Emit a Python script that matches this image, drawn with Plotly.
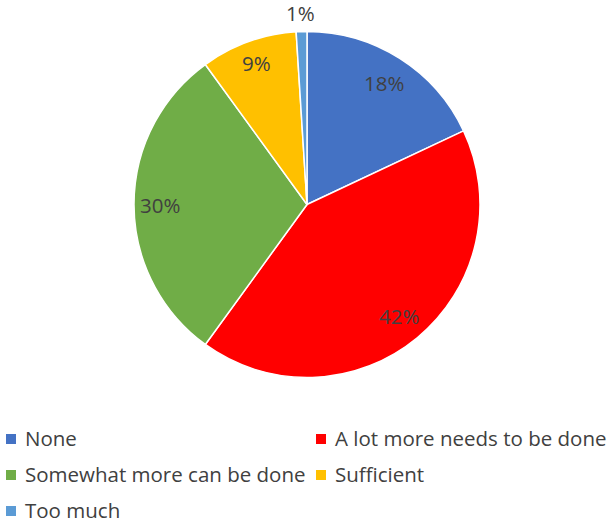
import math
import plotly.graph_objects as go

# Survey responses (share of respondents, %)
categories = ["None", "A lot more needs to be done", "Somewhat more can be done",
              "Sufficient", "Too much"]
values = [18, 42, 30, 9, 1]
colors = ["#4472C4", "#FF0000", "#70AD47", "#FFC000", "#5B9BD5"]
# radial placement of each percentage label, as a fraction of the radius
label_radius = [0.835, 0.835, 0.85, 0.87, 1.105]

W, H = 610, 525
CX, CY, R = 307, 204.5, 173  # pie centre and radius in pixels
FONT = "Open Sans"
FONT_SIZE = 20.5
TEXT_COLOR = "#404040"

fig = go.Figure(go.Pie(
    labels=categories,
    values=values,
    marker=dict(colors=colors, line=dict(color="white", width=1.5)),
    sort=False,
    direction="clockwise",
    rotation=0,
    textinfo="none",
    hoverinfo="label+percent",
    showlegend=False,
    domain=dict(x=[(CX - R) / W, (CX + R) / W],
                y=[(H - CY - R) / H, (H - CY + R) / H]),
))

# Percentage labels at each slice's mid angle
total = sum(values)
cum = 0
annotations = []
for v, k in zip(values, label_radius):
    mid = (cum + v / 2) / total * 2 * math.pi
    cum += v
    px = CX + k * R * math.sin(mid)
    py = CY - k * R * math.cos(mid)
    annotations.append(dict(
        x=px / W, y=1 - py / H, xref="paper", yref="paper",
        text=f"{round(v / total * 100)}%", showarrow=False,
        font=dict(family=FONT, size=FONT_SIZE, color=TEXT_COLOR),
        xanchor="center", yanchor="middle",
    ))

# Legend: two columns, rows 36 px apart
shapes = []
col_x = [6, 316]
row_y0 = 439
row_gap = 36
sq = 10
for i, (name, c) in enumerate(zip(categories, colors)):
    cx0 = col_x[i % 2]
    cy0 = row_y0 + (i // 2) * row_gap
    shapes.append(dict(
        type="rect", xref="paper", yref="paper",
        x0=cx0 / W, x1=(cx0 + sq) / W,
        y0=1 - (cy0 + sq / 2) / H, y1=1 - (cy0 - sq / 2) / H,
        fillcolor=c, line=dict(width=0),
    ))
    annotations.append(dict(
        x=(cx0 + sq + 7) / W, y=1 - (cy0 - 1) / H, xref="paper", yref="paper",
        text=name, showarrow=False,
        font=dict(family=FONT, size=FONT_SIZE, color=TEXT_COLOR),
        xanchor="left", yanchor="middle",
    ))

fig.update_layout(
    width=W, height=H,
    margin=dict(l=0, r=0, t=0, b=0),
    paper_bgcolor="white",
    plot_bgcolor="white",
    annotations=annotations,
    shapes=shapes,
)

fig.write_html("out.html")
